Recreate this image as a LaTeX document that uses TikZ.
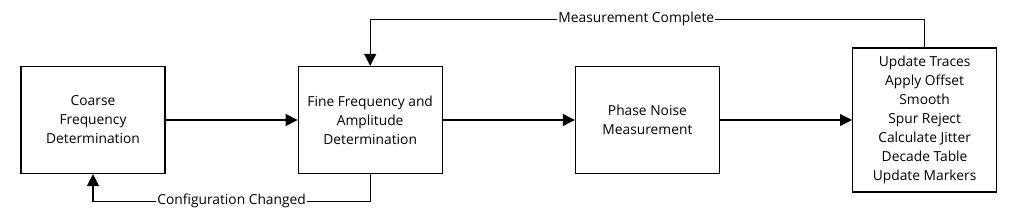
\documentclass[tikz,border=0pt]{standalone}
\usepackage{fontspec}
\setmainfont{Open Sans}
\usetikzlibrary{positioning,arrows.meta}

\begin{document}
\begin{tikzpicture}[
  x=1pt, y=-1pt,
  font=\fontsize{13.8}{19}\selectfont,
  box/.style={draw, line width=1.2pt, minimum width=144pt, minimum height=107pt, inner sep=3pt, align=center},
  arr/.style={-{Triangle[length=12pt, width=12pt]}, line width=1.2pt},
  lbl/.style={fill=white, inner sep=1pt},
  node distance=5mm and 132pt]
\useasboundingbox (0,0) rectangle (1017,223);
\node[box] (coarse) at (93,120) {Coarse\\Frequency\\Determination};
\node[box, right=of coarse] (fine) {Fine Frequency and\\Amplitude\\Determination};
\node[box, right=of fine] (phase) {Phase Noise\\Measurement};
\node[box, right=of phase, minimum height=144pt] (post) {Update Traces\\Apply Offset\\Smooth\\Spur Reject\\Calculate Jitter\\Decade Table\\Update Markers};
\draw[arr] (coarse) -- (fine);
\draw[arr] (fine) -- (phase);
\draw[arr] (phase) -- (post);
\draw[arr] (post.north) -- ++(0,-28) -| node[lbl, pos=0.26] {Measurement Complete} (fine.north);
\draw[arr] (fine.south) -- ++(0,27) -| node[lbl, pos=0.25] {Configuration Changed} (coarse.south);
\end{tikzpicture}
\end{document}
